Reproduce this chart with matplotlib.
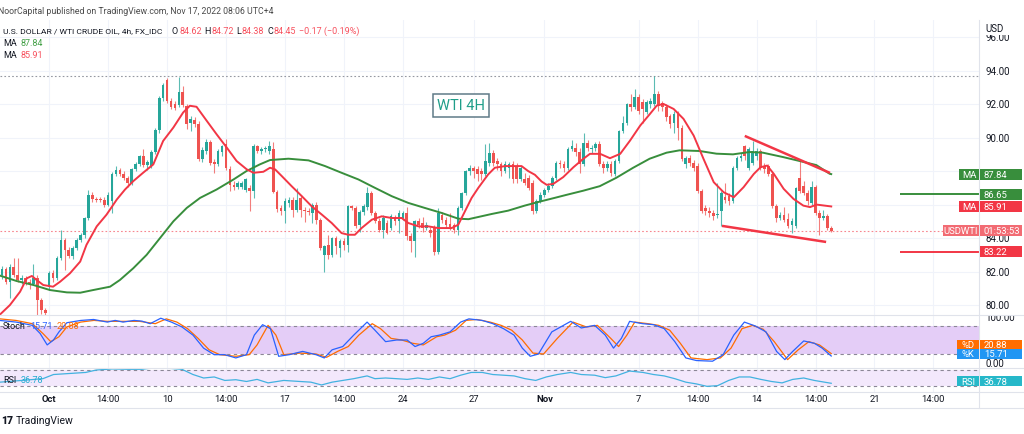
import matplotlib
matplotlib.use("Agg")
import matplotlib.pyplot as plt
from matplotlib.patches import Rectangle
import numpy as np

# ---------------- data ----------------
opens = [81.82, 82.18, 81.42, 82.32, 81.82, 81.52, 81.62, 81.42, 81.30, 81.62,
         80.32, 79.72, 81.12, 81.92, 81.62, 82.82, 83.88, 83.32, 82.95, 83.42,
         83.92, 84.18, 85.22, 86.62, 86.38, 86.32, 86.30, 86.02, 86.22, 87.86,
         88.06, 87.86, 87.62, 87.32, 88.12, 88.46, 88.92, 88.38, 88.32, 89.18,
         90.46, 92.36, 93.48, 92.22, 92.02, 91.98, 92.72, 91.92, 90.92, 91.06,
         90.82, 88.72, 89.22, 89.78, 88.58, 88.42, 89.18, 89.62, 88.12, 87.22,
         87.06, 87.06, 86.92, 87.02, 86.82, 89.52, 89.22, 89.32, 89.20, 89.34,
         86.78, 85.82, 85.62, 86.12, 86.32, 85.72, 86.42, 85.72, 85.62, 85.52,
         86.02, 85.12, 83.02, 83.62, 83.02, 84.02, 83.42, 83.82, 83.62, 85.92,
         85.82, 84.80, 85.58, 85.90, 86.72, 85.50, 85.02, 84.52, 84.92, 84.62,
         85.22, 85.02, 85.22, 85.52, 84.12, 83.82, 85.02, 84.92, 84.62, 84.52,
         84.62, 83.22, 85.42, 85.12, 84.86, 84.82, 84.52, 85.82, 86.72, 88.02,
         88.22, 88.12, 88.02, 87.82, 88.52, 89.12, 88.62, 88.42, 88.02, 88.22,
         88.42, 88.32, 87.52, 87.52, 87.62, 87.32, 85.62, 86.22, 86.62, 86.92,
         87.12, 87.62, 88.52, 88.42, 88.22, 89.32, 89.42, 89.18, 88.42, 89.72,
         89.32, 89.42, 89.62, 88.46, 88.22, 88.46, 87.82, 88.62, 90.42, 90.92,
         92.02, 91.82, 92.42, 92.12, 91.52, 92.02, 92.02, 92.62, 92.06, 91.86,
         91.32, 90.92, 91.42, 90.62, 88.46, 88.82, 88.52, 88.32, 86.82, 85.82,
         85.66, 85.52, 85.42, 85.62, 86.50, 86.52, 86.22, 88.22, 88.82, 89.52,
         88.22, 88.52, 88.92, 89.22, 88.32, 88.32, 87.82, 85.92, 85.22, 85.42,
         85.18, 84.82, 84.72, 87.62, 87.12, 86.72, 86.12, 87.08, 85.52, 85.22,
         85.32, 84.62]
highs = [82.35, 82.30, 82.45, 82.86, 82.86, 81.80, 81.75, 81.60, 82.46, 81.80,
         80.45, 79.85, 82.05, 82.10, 82.95, 84.48, 84.00, 83.50, 83.55, 84.00,
         84.30, 85.30, 86.92, 86.75, 86.50, 86.45, 86.45, 86.75, 87.95, 88.30,
         88.20, 88.00, 87.75, 88.20, 88.55, 89.00, 89.32, 88.70, 89.30, 90.60,
         92.50, 93.30, 93.58, 92.40, 92.20, 93.66, 93.10, 92.00, 91.30, 91.25,
         91.00, 89.45, 89.95, 89.90, 88.75, 89.35, 89.60, 89.95, 88.30, 87.40,
         87.40, 87.45, 87.62, 87.20, 89.62, 89.60, 89.45, 89.50, 89.80, 89.76,
         86.90, 86.00, 86.40, 86.45, 86.45, 87.02, 86.60, 85.85, 85.80, 86.10,
         86.20, 85.25, 83.60, 84.20, 84.10, 84.15, 83.95, 84.00, 86.00, 86.00,
         85.95, 85.70, 86.05, 87.10, 86.85, 85.65, 85.20, 85.40, 85.10, 85.45,
         85.40, 85.70, 85.65, 85.90, 84.30, 85.10, 85.20, 85.30, 85.00, 84.70,
         84.80, 85.80, 85.60, 85.30, 85.50, 84.95, 85.95, 86.80, 88.10, 88.40,
         88.35, 88.30, 88.20, 89.62, 89.72, 89.30, 88.80, 88.55, 88.60, 88.55,
         88.60, 88.50, 88.30, 87.90, 87.80, 87.50, 86.35, 86.75, 87.00, 87.30,
         87.75, 88.65, 88.70, 88.60, 89.45, 89.90, 89.70, 89.40, 90.32, 89.85,
         89.60, 89.75, 89.80, 88.60, 88.60, 88.60, 88.75, 90.50, 91.30, 92.10,
         92.60, 92.90, 92.60, 92.30, 92.25, 92.40, 93.72, 92.80, 92.20, 92.00,
         91.45, 91.60, 91.60, 90.80, 88.95, 89.00, 88.70, 88.50, 86.95, 86.00,
         85.90, 85.70, 87.32, 86.85, 87.30, 86.70, 88.30, 88.90, 89.10, 89.60,
         89.45, 89.82, 89.40, 89.35, 88.50, 88.45, 87.95, 86.05, 85.60, 85.90,
         85.50, 85.20, 87.10, 88.62, 87.40, 86.90, 87.40, 87.20, 85.70, 85.70,
         85.45, 84.72]
lows = [81.60, 81.30, 80.42, 81.70, 81.40, 81.30, 81.20, 81.00, 81.20, 79.42,
        79.50, 79.40, 80.90, 81.40, 81.50, 82.70, 82.12, 82.85, 82.80, 83.30,
        83.80, 84.05, 85.10, 86.20, 86.20, 86.15, 85.90, 85.95, 85.52, 87.70,
        87.75, 87.50, 87.10, 87.20, 88.00, 88.30, 88.25, 88.10, 88.20, 89.05,
        90.30, 92.20, 92.10, 91.70, 91.65, 91.85, 91.85, 90.55, 90.40, 90.65,
        88.60, 88.55, 89.05, 88.40, 87.90, 88.30, 88.90, 88.10, 86.82, 86.90,
        86.95, 86.95, 86.80, 85.62, 86.40, 89.10, 89.05, 89.15, 89.05, 86.70,
        85.55, 85.40, 84.90, 85.90, 85.30, 85.60, 85.30, 85.00, 85.40, 84.90,
        84.85, 83.30, 82.02, 82.80, 82.90, 83.10, 82.90, 83.30, 83.20, 85.70,
        84.60, 84.40, 85.40, 85.70, 85.40, 84.90, 84.40, 84.00, 84.25, 84.50,
        84.80, 84.30, 85.10, 83.90, 83.20, 82.92, 84.60, 84.40, 84.50, 84.10,
        83.00, 83.10, 84.90, 84.60, 84.50, 84.35, 84.20, 85.70, 86.60, 87.80,
        87.60, 87.40, 87.50, 87.70, 88.30, 88.30, 88.10, 87.70, 87.90, 87.60,
        87.30, 87.30, 87.40, 87.20, 86.90, 85.45, 85.50, 86.10, 86.50, 86.80,
        87.00, 87.50, 88.20, 87.95, 88.10, 89.20, 88.90, 87.90, 88.30, 89.20,
        89.10, 89.20, 88.30, 87.90, 88.00, 87.70, 87.70, 88.50, 90.30, 90.80,
        91.60, 91.70, 91.40, 90.90, 91.40, 91.80, 91.90, 91.60, 91.60, 91.00,
        90.60, 90.30, 89.90, 88.60, 88.20, 88.30, 88.00, 86.70, 85.50, 85.40,
        85.30, 85.10, 85.20, 84.72, 86.10, 86.00, 86.10, 88.10, 88.60, 88.70,
        88.10, 88.40, 88.70, 88.10, 87.90, 87.70, 85.80, 85.00, 85.10, 85.00,
        84.60, 84.32, 84.60, 86.70, 86.60, 86.00, 86.00, 85.40, 84.22, 85.10,
        84.50, 84.38]
closes = [82.18, 81.42, 82.32, 81.82, 81.52, 81.62, 81.42, 81.30, 81.62, 80.32,
          79.72, 79.52, 81.92, 81.62, 82.82, 83.88, 83.32, 82.95, 83.42, 83.92,
          84.18, 85.22, 86.62, 86.38, 86.32, 86.30, 86.02, 86.62, 87.86, 88.06,
          87.86, 87.62, 87.32, 88.12, 88.46, 88.92, 88.38, 88.55, 89.18, 90.46,
          92.36, 93.18, 92.22, 91.82, 91.78, 92.72, 91.98, 90.82, 91.12, 90.82,
          88.72, 89.26, 89.78, 88.52, 88.42, 89.22, 89.52, 88.22, 87.22, 87.06,
          87.32, 87.32, 87.52, 86.82, 89.52, 89.22, 89.32, 89.32, 89.50, 86.78,
          85.76, 85.66, 86.22, 86.32, 85.72, 86.32, 85.72, 85.62, 85.60, 86.02,
          85.12, 83.42, 83.52, 83.02, 84.02, 83.52, 83.82, 83.62, 85.92, 85.82,
          84.75, 85.58, 85.94, 86.72, 85.50, 85.02, 84.52, 85.20, 84.32, 85.32,
          85.02, 85.52, 85.52, 84.12, 83.82, 85.02, 84.82, 84.62, 84.82, 84.32,
          83.22, 85.52, 85.12, 84.82, 84.66, 84.52, 85.82, 86.72, 88.02, 88.22,
          88.02, 87.82, 87.82, 88.62, 89.12, 88.52, 88.42, 88.02, 88.42, 88.42,
          87.52, 87.52, 88.22, 87.32, 87.02, 85.62, 86.22, 86.62, 86.92, 87.12,
          87.62, 88.52, 88.42, 88.22, 89.32, 89.52, 89.18, 88.42, 89.72, 89.42,
          89.42, 89.62, 88.46, 88.22, 88.46, 87.92, 88.62, 90.42, 90.92, 92.02,
          91.82, 92.42, 91.62, 91.72, 92.12, 92.22, 92.62, 91.92, 91.86, 91.22,
          90.82, 91.42, 90.62, 88.72, 88.82, 88.52, 88.22, 86.82, 85.62, 85.62,
          85.52, 85.32, 85.46, 86.72, 86.30, 86.22, 88.22, 88.82, 88.92, 88.92,
          89.32, 89.22, 89.22, 88.22, 88.12, 87.82, 85.92, 85.22, 85.42, 85.12,
          84.72, 85.02, 87.02, 86.82, 86.72, 86.22, 87.08, 85.52, 85.22, 85.32,
          84.62, 84.45]

ma_fast_idx = [-0.5, 2, 4.6, 6.3, 7.6, 8.8, 10.5, 13, 14.8, 17.3, 19.9, 21.5, 24.1, 26.6, 29.2,
               31.3, 33.4, 35.9, 38.5, 41, 43.6, 46.1, 47.8, 49.5, 52.1, 54.6, 57.2, 59.7, 62.3,
               64, 66.5, 68.2, 69.5, 71.2, 73.7, 76.3, 78.8, 81.4, 83.9, 86.4, 88.1, 89.8, 91.5,
               94.1, 96.6, 99.2, 101.7, 103.4, 106, 108.5, 111, 114.4, 116.1, 117.8, 119.5,
               121.2, 123.7, 125.4, 128, 130.5, 132.2, 133.9, 135.6, 137.3, 138.6, 140.3, 142.8,
               145.4, 147.9, 149.6, 152.2, 154.7, 157.3, 159.8, 162.4, 164.9, 166.6, 168.3,
               170.9, 173.4, 176, 178.5, 181.1, 183.6, 186.2, 188.7, 191.3, 193, 194.7, 196.4,
               198.9, 201.4, 203.9, 205.6, 207.3, 211]
ma_fast_val = [79.46, 80.02, 80.82, 81.62, 81.76, 81.52, 81.22, 81.12, 81.42, 81.92, 82.62, 83.62,
               84.72, 85.42, 86.32, 86.92, 87.42, 87.92, 88.42, 89.82, 90.62, 91.52, 91.92, 91.86,
               91.02, 90.22, 89.42, 88.62, 88.12, 87.92, 87.98, 88.22, 88.12, 87.72, 87.12, 86.52,
               85.92, 85.42, 84.92, 84.32, 84.22, 84.22, 84.62, 85.12, 85.32, 85.22, 85.22, 84.92,
               84.72, 84.72, 84.62, 84.62, 84.82, 85.62, 86.42, 87.02, 87.82, 88.22, 88.32, 88.32,
               88.32, 88.02, 87.80, 87.40, 87.20, 87.26, 87.66, 88.25, 88.75, 89.05, 89.05, 88.79,
               89.05, 89.84, 90.74, 91.44, 91.93, 92.03, 91.73, 91.14, 90.14, 88.75, 87.36, 86.76,
               86.46, 87.06, 87.85, 88.25, 88.35, 87.85, 86.96, 86.36, 85.96, 85.87, 86.02, 85.91]
ma_slow_idx = [-0.5, 3.7, 8, 12.2, 16.5, 19.9, 23.2, 27.5, 30, 33.4, 36.8, 40.2, 43.6, 47, 50.4,
               54.6, 58.9, 62.2, 65.6, 68.2, 72.9, 78, 82.2, 86.4, 90.7, 94.9, 99.2, 103.4, 107.6,
               111.9, 116.1, 118.7, 124.6, 128.8, 133, 137.2, 140.6, 143.6, 147.9, 152.1, 156.3,
               160.6, 164.8, 169.1, 172.4, 177.5, 181.8, 186, 190.2, 193.6, 198.7, 203, 207.2,
               210.6, 211]
ma_slow_val = [81.78, 81.46, 81.22, 80.92, 80.78, 80.76, 80.92, 81.12, 81.52, 82.22, 83.02, 84.02,
               85.02, 85.82, 86.42, 86.92, 87.52, 88.02, 88.42, 88.68, 88.76, 88.66, 88.32, 87.92,
               87.52, 87.02, 86.52, 86.12, 85.82, 85.52, 85.18, 85.15, 85.46, 85.66, 85.96, 86.22,
               86.42, 86.60, 86.85, 87.12, 87.62, 88.22, 88.76, 89.12, 89.26, 89.22, 89.06, 89.02,
               89.16, 89.12, 88.86, 88.62, 88.38, 87.86, 87.84]

stoch_k_idx = [-0.5, 3.6, 7.7, 9.7, 11.5, 13.1, 14.5, 16.5, 20, 23.3, 26.8, 28.8, 30.8, 33.6, 35.6,
               37.7, 40.4, 43.1, 45.8, 48.6, 51.3, 54, 56.7, 59.5, 62.2, 64.2, 66.3, 68.3, 70.4,
               73.1, 76.5, 79.9, 82, 84, 86.7, 89.5, 92.9, 94.9, 97.6, 100.4, 103.1, 105.1, 107.2,
               109.2, 111.3, 114, 116.7, 118.8, 122.2, 124.9, 127.6, 130.3, 132.4, 134.4, 136.5,
               139.9, 144.7, 147.4, 150.8, 153.5, 155.6, 157.6, 159.7, 163, 165.8, 168.5, 171.2,
               174, 176.7, 180.8, 183.5, 186.2, 188.9, 191.7, 194.4, 197.1, 199.2, 201.2, 204,
               206.7, 208.7, 211]
stoch_k_val = [91.9, 88.4, 81.4, 64, 39.5, 50, 67.4, 87, 91.9, 94, 88.4, 92, 88.4, 92, 90.5, 85,
               96.7, 88.4, 78, 60.5, 32.6, 18.6, 18.6, 11.6, 18.6, 60.5, 82.8, 74.4, 15.1, 18.6,
               25.6, 18.6, 11.6, 29, 36, 60.5, 88.4, 71, 46.5, 50, 50, 36, 43, 57, 60.5, 67.4,
               88.4, 95.3, 92, 85, 74.4, 60.5, 32.6, 15.1, 20, 67.4, 90, 75.8, 81.4, 60.5, 32.6,
               53.5, 90, 85, 82.8, 74.4, 46.5, 11.6, 6, 4.6, 18.6, 60.5, 88.4, 80, 67.4, 25.6, 8,
               25.6, 48, 43, 32.6, 15.71]
stoch_d_idx = [-0.5, 3.6, 7.7, 10.4, 12.4, 14.5, 16.5, 20, 23.4, 26.8, 30.9, 35, 39, 41.8, 44.5,
               47.2, 49.9, 52.7, 55.4, 59.5, 62.9, 64.9, 67.7, 69.7, 71.7, 75.8, 79.9, 82.6, 85.4,
               88.1, 90.8, 94.2, 96.3, 99, 101.7, 104.5, 107.2, 110.6, 112.6, 115.4, 118.1, 120.8,
               124.2, 127, 129.7, 132.4, 135.1, 137.8, 141.3, 145.3, 148.7, 151.5, 154.9, 156.9,
               159, 161, 164.4, 167.1, 169.9, 172.6, 175.3, 179.4, 182.8, 185.5, 188.3, 191,
               193.7, 196.5, 199.9, 202.6, 205.3, 208, 211]
stoch_d_val = [95.3, 91.9, 85, 64, 46.5, 57, 78, 88.4, 92, 90, 90, 90, 85, 95.3, 88.4, 74.4, 53.5,
               29, 18.6, 15.1, 18.6, 39.5, 81.4, 60.5, 18.6, 22, 20, 13, 25.6, 36, 60.5, 85, 74.4,
               53.5, 50, 43, 39.5, 57, 60.5, 71, 92, 94, 88.4, 81.4, 71, 50, 22, 20, 53.5, 88.4,
               78, 81.4, 53.5, 36, 60.5, 88.4, 85, 81.4, 71, 43, 11.6, 8, 11.6, 32.6, 74.4, 81.4,
               73, 46.5, 8, 29, 46.5, 39.5, 20.88]
rsi_idx = [-0.5, 5, 10.4, 13.1, 17.2, 21.3, 24, 28.1, 32.2, 35.6, 39, 40.4, 41.8, 42.4, 45.8, 48.6,
           51.3, 54, 56.7, 59.5, 62.2, 64.9, 67.7, 71.7, 75.8, 78.6, 81.3, 84, 86.7, 89.5, 92.9,
           94.9, 97.6, 100.4, 103.1, 105.8, 108.5, 111.3, 114, 116.7, 119.4, 122.2, 124.9, 127.6,
           130.3, 133.1, 135.8, 138.5, 141.3, 144.7, 147.4, 150.8, 153.5, 156.2, 159.7, 163.1,
           165.8, 168.5, 171.2, 174, 176.7, 179.4, 182.1, 184.9, 187.6, 190.3, 193.1, 195.8,
           198.5, 201.2, 204, 206.7, 211]
rsi_val = [39.6, 43.9, 48.3, 58.7, 61.3, 63.9, 70, 72.6, 71.7, 71.7, 76.1, 79, 79, 74.3, 71.7,
           58.7, 50, 52.6, 43.9, 45.7, 41.3, 46.5, 37.8, 43.9, 41.3, 39.6, 32.6, 39.6, 43.9, 48.3,
           55.2, 48.3, 50, 48.3, 46.5, 50, 46.5, 52.6, 48.3, 57, 63.9, 63.9, 58.7, 57, 55.2, 48.3,
           43.9, 52.6, 58.7, 63.9, 58.7, 57, 50.9, 55.2, 67.4, 63.9, 58.7, 55.2, 48.3, 39.6, 35.2,
           29.1, 30.9, 43.9, 52.6, 52.6, 46.5, 41.3, 37.8, 46.5, 50, 43.9, 36.78]

tick_idx = [12, 27, 42, 57, 72, 87, 102, 120, 138, 162, 177, 192, 207, 222, 237]
tick_labels = ["Oct", "14:00", "10", "14:00", "17", "14:00", "24", "27", "Nov", "7",
               "14:00", "14", "14:00", "21", "14:00"]
month_labels = ["Oct", "Nov"]
price_ticks = [80, 82, 84, 86, 88, 90, 92, 94, 96]
stoch_ticks = [100, 50, 0]

resistance = 86.65
support = 83.22
level_start = 228.5
trend_upper_idx = [189.0, 210.7]
trend_upper_val = [90.12, 87.91]
trend_lower_idx = [183.2, 209.7]
trend_lower_val = [84.75, 83.79]

ma_slow_last, ma_fast_last = 87.84, 85.91
k_last, d_last, rsi_last = 15.71, 20.88, 36.78
change_text = "\u22120.17 (\u22120.19%)"

# ---------------- style ----------------
plt.rcParams['font.family'] = ['Roboto', 'DejaVu Sans']
UP, DN = '#26a69a', '#ef5350'
GREEN, RED = '#388e3c', '#f23645'
TXT = '#131722'
GRID = '#f0f3fa'
SEP = '#e0e3eb'

W, H = 1024, 435
fig = plt.figure(figsize=(W / 100, H / 100), dpi=100)
fig.patch.set_facecolor('white')


def rect(x0, y0, x1, y1):
    return [x0 / W, 1 - y1 / H, (x1 - x0) / W, (y1 - y0) / H]


AXR = 979
TOP, MB, SB, RB = 21, 316, 368.5, 393
XL = (-2 / 3.93, (AXR - 2) / 3.93)

ax = fig.add_axes(rect(0, TOP, AXR, MB))
ax_st = fig.add_axes(rect(0, MB, AXR, SB))
ax_rsi = fig.add_axes(rect(0, SB, AXR, RB))
ax.set_ylim(79.43, 97.04)
ax_st.set_ylim(-8.9, 103.6)
ax_rsi.set_ylim(15, 76.25)
for a in (ax, ax_st, ax_rsi):
    a.set_xlim(*XL)
    a.set_axis_off()
    for t in tick_idx:
        a.axvline(t, color=GRID, lw=0.8, zorder=0)
for p in price_ticks:
    ax.axhline(p, color=GRID, lw=0.8, zorder=0)

# candles
o = np.array(opens); hgh = np.array(highs); low = np.array(lows); c = np.array(closes)
x = np.arange(len(c))
up = c >= o
col = np.where(up, UP, DN)
top = np.maximum(np.maximum(o, c), hgh)
bot = np.minimum(np.minimum(o, c), low)
ax.vlines(x, bot, top, colors=col, lw=0.8, alpha=0.75, zorder=2)
body_b = np.minimum(o, c)
body_h = np.maximum(np.abs(c - o), 0.05)
ax.bar(x, body_h, bottom=body_b, width=0.68, color=col, linewidth=0, zorder=3)

# lines
ax.axhline(max(highs), color='#9598a1', lw=0.8, ls=(0, (1.5, 2)), zorder=1)
ax.axhline(closes[-1], color=RED, lw=0.8, ls=(0, (1.5, 2)), alpha=0.6, zorder=1)
ax.plot(ma_slow_idx, ma_slow_val, color=GREEN, lw=1.4, zorder=4)
ax.plot(ma_fast_idx, ma_fast_val, color=RED, lw=1.4, zorder=5)
ax.plot(trend_upper_idx, trend_upper_val, color=RED, lw=1.8, zorder=6, solid_capstyle='butt')
ax.plot(trend_lower_idx, trend_lower_val, color=RED, lw=1.8, zorder=6, solid_capstyle='butt')
ax.hlines(resistance, level_start, XL[1], color=GREEN, lw=1.4, zorder=6)
ax.hlines(support, level_start, XL[1], color=RED, lw=1.4, zorder=6)

# stochastic
ax_st.axhspan(20, 80, xmin=0, xmax=1, color='#e4cdf7', lw=0, zorder=0.5)
for lv in (80, 20):
    ax_st.axhline(lv, color='#8b8796', lw=0.8, ls=(0, (3, 3)), zorder=1)
ax_st.plot(stoch_d_idx, stoch_d_val, color='#ff6d00', lw=0.9, zorder=3)
ax_st.plot(stoch_k_idx, stoch_k_val, color='#2962ff', lw=0.9, zorder=4)

# rsi
ax_rsi.axhspan(30, 70, color='#f3e8fc', lw=0, zorder=0.5)
for lv in (70, 30):
    ax_rsi.axhline(lv, color='#8b8796', lw=0.8, ls=(0, (3, 3)), zorder=1)
ax_rsi.plot(rsi_idx, rsi_val, color='#42b2e0', lw=0.9, zorder=3)


def ypx(a, v):
    return H - a.transData.transform((0, v))[1]


def xpx(a, v):
    return a.transData.transform((v, 0))[0]


# right-scale tags (price in pixel rows)
tags = [
    (ypx(ax, ma_slow_last), f"{ma_slow_last:.2f}", GREEN, 11, "MA", 959),
    (ypx(ax, resistance), f"{resistance:.2f}", GREEN, 11, None, 959),
    (ypx(ax, ma_fast_last), f"{ma_fast_last:.2f}", RED, 11, "MA", 959),
    (ypx(ax, closes[-1]), "01:53:53", '#f26b73', 11, "USDWTI", 943),
    (ypx(ax, support), f"{support:.2f}", RED, 11, None, 959),
    (345.5, f"{d_last:.2f}", '#ff6d00', 9.5, "%D", 957),
    (355.0, f"{k_last:.2f}", '#2196f3', 9.5, "%K", 957),
    (ypx(ax_rsi, rsi_last) - 2, f"{rsi_last:.2f}", '#26b8c9', 10, "RSI", 957),
]


def hidden(yl):
    return any(abs(yl - ty) < th / 2 + 1.5 for ty, _, _, th, _, _ in tags)


# price scales (clipped label areas)
sc_main = fig.add_axes(rect(AXR, TOP, W, MB))
sc_main.set_ylim(ax.get_ylim()); sc_main.set_xlim(0, 1); sc_main.set_axis_off()
for p in price_ticks:
    if not hidden(ypx(ax, p)):
        sc_main.text(0.14, p, f"{p:.2f}", fontsize=7, color=TXT, va='center', ha='left', clip_on=True)
sc_st = fig.add_axes(rect(AXR, MB, W, SB))
sc_st.set_ylim(ax_st.get_ylim()); sc_st.set_xlim(0, 1); sc_st.set_axis_off()
for p in stoch_ticks:
    if not hidden(ypx(ax_st, p)):
        sc_st.text(0.14, p, f"{p:.2f}", fontsize=7, color=TXT, va='center', ha='left', clip_on=True)

# overlay in pixel coordinates
ov = fig.add_axes([0, 0, 1, 1])
ov.set_xlim(0, W); ov.set_ylim(H, 0); ov.set_axis_off(); ov.patch.set_alpha(0)
renderer = fig.canvas.get_renderer()

# separators
for yy in (MB, SB, RB):
    ov.plot([0, W], [yy, yy], color=SEP, lw=0.8)
ov.plot([0, W], [409, 409], color=SEP, lw=0.8)
ov.plot([AXR, AXR], [TOP, 409], color=SEP, lw=0.8)
ov.add_patch(Rectangle((AXR + 0.5, TOP), W - AXR, 15, fc='white', ec='none'))
ov.text(985, 28.5, "USD", fontsize=7, color=TXT, va='center', ha='left')

# time labels
for t, lab in zip(tick_idx, tick_labels):
    ov.text(xpx(ax, t), 399.5, lab, fontsize=6.8, color=TXT, ha='center', va='center',
            fontweight='bold' if lab in month_labels else 'normal')

for y, text, color, h, label, lx0 in tags:
    ov.add_patch(Rectangle((AXR + 0.5, y - h / 2), 42, h, fc=color, ec='none', zorder=10))
    ov.text(984, y, text, color='white', fontsize=6.8, va='center', ha='left', zorder=11)
    if label:
        ov.add_patch(Rectangle((lx0, y - h / 2), AXR - 0.5 - lx0, h, fc=color, ec='none', zorder=10))
        ov.text((lx0 + AXR) / 2, y, label, color='white', fontsize=6.8, va='center',
                ha='center', zorder=11)


def runs(x0, y, parts, fs):
    xx = x0
    for s, colr, gap in parts:
        t = ov.text(xx, y, s, color=colr, fontsize=fs, ha='left', va='center')
        bb = t.get_window_extent(renderer=renderer)
        xx += bb.width + gap


LR = '#f7525f'
runs(-2, 12, [("NoorCapital published on TradingView.com, Nov 17, 2022 08:06 UTC+4", '#4a4a4a', 0)], 6.3)
runs(3, 31, [("U.S. DOLLAR / WTI CRUDE OIL, 4h, FX_IDC", TXT, 0)], 6.1)
ohlc_names = ["O", "H", "L", "C"]
ohlc_vals = [opens[-1], highs[-1], lows[-1], closes[-1]]
ohlc_x = [172, 204, 236, 267]
for xx, nm, vv in zip(ohlc_x, ohlc_names, ohlc_vals):
    runs(xx, 31, [(nm, TXT, 1), (f"{vv:.2f}", LR, 0)], 6.5)
runs(299, 31, [(change_text, LR, 0)], 6.5)
runs(3, 43.5, [("MA", TXT, 4), (f"{ma_slow_last:.2f}", '#43a047', 0)], 6.5)
runs(3, 56, [("MA", TXT, 4), (f"{ma_fast_last:.2f}", LR, 0)], 6.5)
runs(3, 327, [("Stoch", TXT, 4), (f"{k_last:.2f}", '#2962ff', 4), (f"{d_last:.2f}", '#ff6d00', 0)], 6.5)
runs(3, 381, [("RSI", TXT, 4), (f"{rsi_last:.2f}", '#22abd0', 0)], 6.5)

# WTI 4H annotation
ov.text(461, 106.5, "WTI 4H", fontsize=10.5, color='#1f9e89', ha='center', va='center',
        bbox=dict(boxstyle='square,pad=0.28', fc='white', ec='#5f7a87', lw=1.1))

# footer
ov.text(1, 421, "17", fontsize=7.5, color=TXT, fontweight='heavy', ha='left', va='center')
ov.text(16, 421, "TradingView", fontsize=7.5, color=TXT, ha='left', va='center')

fig.savefig("out.png", dpi=100, facecolor='white')
